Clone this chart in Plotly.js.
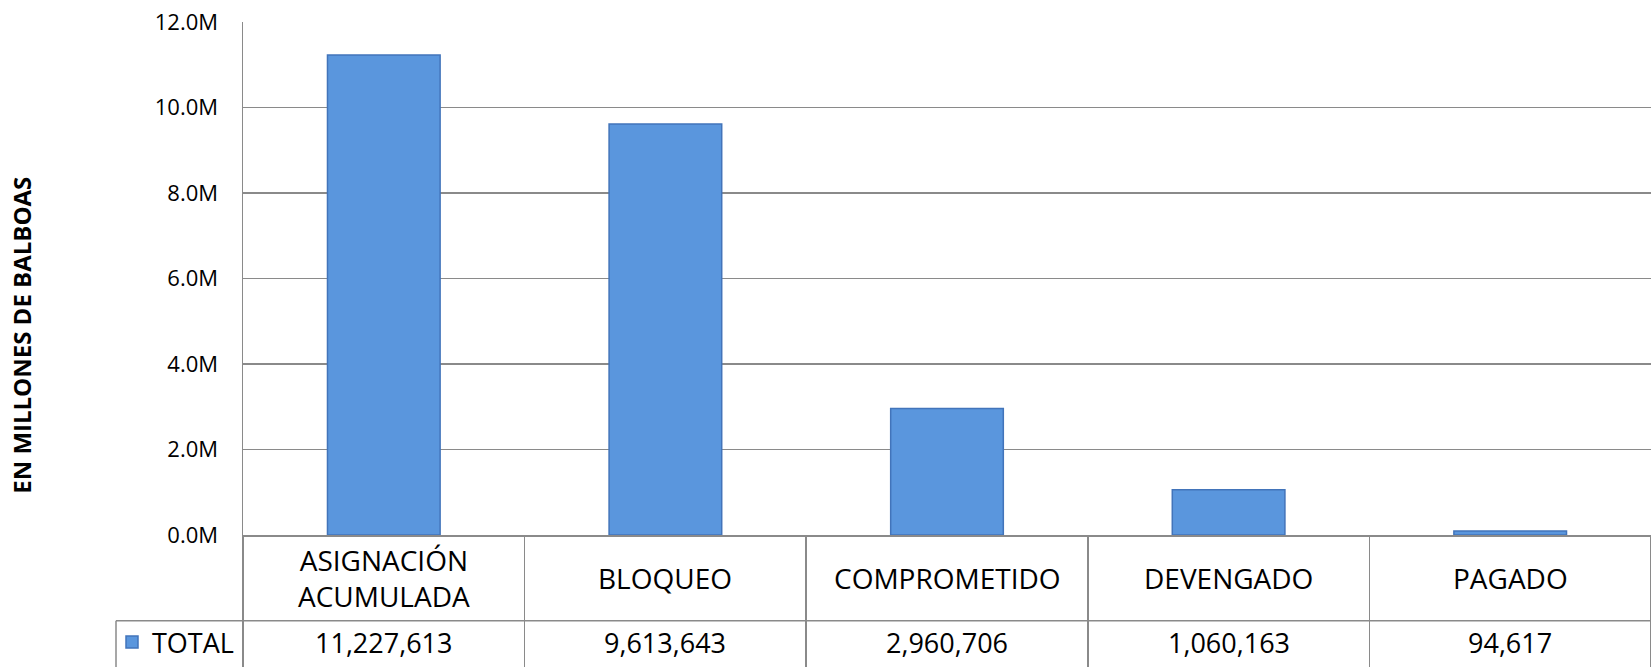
<!DOCTYPE html>
<html>
<head>
<meta charset="utf-8">
<script src="https://cdn.plot.ly/plotly-3.0.1.min.js"></script>
<style>
  html, body { margin: 0; padding: 0; background: #ffffff; }
  #chart { width: 1651px; height: 667px; }
</style>
</head>
<body>
<div id="chart"></div>
<script>
// ---- data ----
const categories = ["ASIGNACIÓN ACUMULADA", "BLOQUEO", "COMPROMETIDO", "DEVENGADO", "PAGADO"];
const categoryLabels = ["ASIGNACIÓN<br>ACUMULADA", "BLOQUEO", "COMPROMETIDO", "DEVENGADO", "PAGADO"];
const totalValues = [11227613, 9613643, 2960706, 1060163, 94617];
const seriesName = "TOTAL";
const yTickValues = [0, 2000000, 4000000, 6000000, 8000000, 10000000, 12000000];
const yTickLabels = ["0.0M", "2.0M", "4.0M", "6.0M", "8.0M", "10.0M", "12.0M"];
const yAxisTitle = "EN MILLONES DE BALBOAS";

// ---- layout geometry (px) ----
const W = 1651, H = 667;
const mL = 243, mR = 0, mT = 22, mB = 130;
const plotW = W - mL - mR, plotH = H - mT - mB;
const row1Bottom = 623;          // y of line between category row and value row
const tableLeft = 116;           // x of table left edge (legend cell)
const px2py = y => ((H - mB) - y) / plotH;   // pixel y -> paper y
const px2px = x => (x - mL) / plotW;         // pixel x -> paper x

const gridColor = "#8a8a8a";
const barColor = "#5A96DD";
const barLine = "#4274BA";
const font = "'Open Sans', 'Liberation Sans', sans-serif";

const trace = {
  type: "bar",
  x: categories,
  y: totalValues,
  name: seriesName,
  marker: { color: barColor, line: { color: barLine, width: 1.5 } },
  showlegend: true,
  hoverinfo: "x+y"
};

const annotations = [];
categories.forEach((c, i) => {
  annotations.push({
    xref: "x", yref: "paper", x: c, y: px2py((H - mB + row1Bottom) / 2),
    text: categoryLabels[i], showarrow: false, xanchor: "center", yanchor: "middle",
    font: { family: font, size: 28, color: "#000" }
  });
  annotations.push({
    xref: "x", yref: "paper", x: c, y: px2py((row1Bottom + H) / 2),
    text: totalValues[i].toLocaleString("en-US"), showarrow: false, xanchor: "center", yanchor: "middle",
    font: { family: font, size: 27, color: "#000" }
  });
});
annotations.push({
  xref: "paper", yref: "paper", x: px2px(22), y: px2py(337),
  text: "<b>" + yAxisTitle + "</b>", showarrow: false, textangle: -90,
  xanchor: "center", yanchor: "middle",
  font: { family: font, size: 24, color: "#000" }
});

const shapes = [
  { type: "line", xref: "paper", yref: "paper", x0: px2px(tableLeft), x1: 1,
    y0: px2py(row1Bottom), y1: px2py(row1Bottom), line: { color: gridColor, width: 1.5 } },
  { type: "line", xref: "paper", yref: "paper", x0: px2px(tableLeft), x1: px2px(tableLeft),
    y0: px2py(row1Bottom), y1: px2py(H + 5), line: { color: gridColor, width: 1.5 } }
];

const layout = {
  width: W, height: H, autosize: false,
  margin: { l: mL, r: mR, t: mT, b: mB, pad: 0 },
  paper_bgcolor: "#ffffff", plot_bgcolor: "#ffffff",
  bargap: 0.6,
  font: { family: font, color: "#000" },
  showlegend: true,
  legend: {
    x: px2px(112), xanchor: "left", y: px2py(645), yanchor: "middle",
    bgcolor: "rgba(0,0,0,0)", borderwidth: 0,
    font: { family: font, size: 27, color: "#000" },
    itemwidth: 30
  },
  xaxis: {
    type: "category", tickson: "boundaries", ticks: "outside", ticklen: mB + 5,
    tickwidth: 1.5, tickcolor: gridColor, showticklabels: false,
    showline: true, linecolor: gridColor, linewidth: 1.5,
    showgrid: false, zeroline: false, fixedrange: true
  },
  yaxis: {
    range: [0, 12000000], tickmode: "array", tickvals: yTickValues, ticktext: yTickLabels,
    showgrid: true, gridcolor: gridColor, gridwidth: 1.5,
    showline: true, linecolor: gridColor, linewidth: 1.5,
    zeroline: false, ticks: "", ticklabelstandoff: 19,
    tickfont: { family: font, size: 22, color: "#000" }, fixedrange: true
  },
  annotations: annotations,
  shapes: shapes
};

Plotly.newPlot("chart", [trace], layout, { displayModeBar: false, staticPlot: true });
</script>
</body>
</html>
